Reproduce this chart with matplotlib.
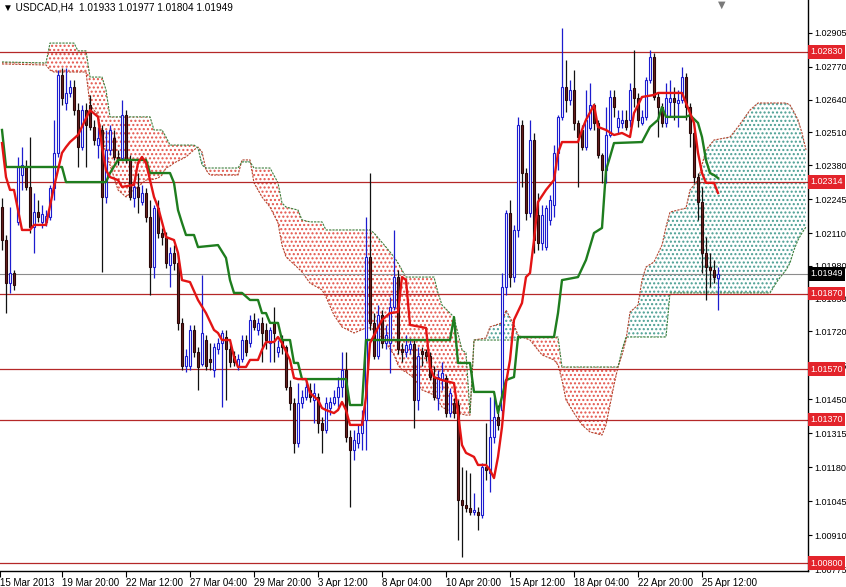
import matplotlib
matplotlib.use('Agg')
import matplotlib.pyplot as plt
import numpy as np
from matplotlib.transforms import blended_transform_factory

plt.rcParams['font.family'] = ['Liberation Sans', 'DejaVu Sans']
plt.rcParams['hatch.linewidth'] = 1.0

# ---------------- data (USDCAD H4 candles) ----------------
opens = [
1.02214, 1.02083, 1.01912, 1.01952, 1.02155, 1.02341, 1.02373, 1.02294, 1.02135, 1.02194,
1.02155, 1.02155, 1.02174, 1.02290, 1.02429, 1.02738, 1.02627, 1.02667, 1.02691, 1.02599,
1.02452, 1.02599, 1.02619, 1.02532, 1.02460, 1.02520, 1.02254, 1.02441, 1.02488, 1.02413,
1.02409, 1.02579, 1.02401, 1.02250, 1.02294, 1.02234, 1.02270, 1.02174, 1.01976, 1.02210,
1.02111, 1.02095, 1.01984, 1.02032, 1.01992, 1.01754, 1.01583, 1.01583, 1.01726, 1.01639,
1.01591, 1.01686, 1.01611, 1.01567, 1.01651, 1.01674, 1.01698, 1.01651, 1.01623, 1.01583,
1.01611, 1.01686, 1.01674, 1.01766, 1.01726, 1.01754, 1.01726, 1.01674, 1.01754, 1.01639,
1.01686, 1.01658, 1.01500, 1.01437, 1.01278, 1.01437, 1.01460, 1.01488, 1.01448, 1.01460,
1.01357, 1.01329, 1.01416, 1.01437, 1.01460, 1.01500, 1.01567, 1.01301, 1.01250, 1.01278,
1.01317, 1.01369, 1.02016, 1.01754, 1.01623, 1.01785, 1.01674, 1.01674, 1.01817, 1.01936,
1.01651, 1.01639, 1.01651, 1.01670, 1.01448, 1.01643, 1.01639, 1.01623, 1.01539, 1.01456,
1.01527, 1.01535, 1.01397, 1.01437, 1.01428, 1.01051, 1.01031, 1.01019, 1.01003, 1.01003,
1.00991, 1.01182, 1.01158, 1.01301, 1.01381, 1.01409, 1.01896, 1.02190, 1.01936, 1.02123,
1.02540, 1.02349, 1.02190, 1.02480, 1.02182, 1.02071, 1.02055, 1.02162, 1.02222, 1.02429,
1.02571, 1.02691, 1.02639, 1.02679, 1.02548, 1.02520, 1.02452, 1.02528, 1.02619, 1.02548,
1.02421, 1.02361, 1.02500, 1.02651, 1.02532, 1.02548, 1.02560, 1.02560, 1.02687, 1.02647,
1.02548, 1.02571, 1.02718, 1.02810, 1.02651, 1.02611, 1.02548, 1.02631, 1.02647, 1.02627,
1.02639, 1.02730, 1.02611, 1.02508, 1.02333, 1.02234, 1.02032, 1.01976, 1.01964, 1.01933,
]
highs = [
1.02250, 1.02103, 1.02214, 1.01964, 1.02413, 1.02452, 1.02401, 1.02492, 1.02270, 1.02242,
1.02222, 1.02202, 1.02302, 1.02560, 1.02758, 1.02766, 1.02766, 1.02718, 1.02718, 1.02627,
1.02619, 1.02627, 1.02659, 1.02560, 1.02532, 1.02540, 1.02520, 1.02540, 1.02520, 1.02441,
1.02639, 1.02599, 1.02421, 1.02321, 1.02349, 1.02302, 1.02290, 1.02242, 1.02222, 1.02242,
1.02131, 1.02115, 1.02055, 1.02063, 1.02024, 1.01773, 1.01651, 1.01746, 1.01746, 1.01658,
1.01944, 1.01706, 1.01674, 1.01674, 1.01694, 1.01726, 1.01726, 1.01674, 1.01643, 1.01631,
1.01706, 1.01706, 1.01785, 1.01793, 1.01773, 1.01777, 1.01754, 1.01738, 1.01817, 1.01686,
1.01706, 1.01666, 1.01527, 1.01456, 1.01515, 1.01488, 1.01527, 1.01515, 1.01515, 1.01476,
1.01381, 1.01460, 1.01460, 1.01488, 1.01539, 1.01639, 1.01639, 1.01329, 1.01329, 1.01349,
1.01409, 1.02174, 1.02349, 1.01793, 1.01825, 1.01805, 1.01746, 1.01857, 1.02123, 1.01964,
1.01674, 1.01706, 1.01694, 1.01686, 1.01658, 1.01658, 1.01651, 1.01639, 1.01583, 1.01567,
1.01599, 1.01547, 1.01496, 1.01456, 1.01448, 1.01182, 1.01170, 1.01158, 1.01079, 1.01023,
1.01198, 1.01357, 1.01460, 1.01460, 1.01428, 1.01952, 1.02202, 1.02242, 1.02143, 1.02571,
1.02560, 1.02369, 1.02560, 1.02508, 1.02270, 1.02222, 1.02222, 1.02262, 1.02460, 1.02579,
1.02925, 1.02798, 1.02718, 1.02758, 1.02560, 1.02540, 1.02679, 1.02706, 1.02627, 1.02560,
1.02429, 1.02611, 1.02679, 1.02679, 1.02599, 1.02599, 1.02599, 1.02706, 1.02837, 1.02667,
1.02599, 1.02730, 1.02837, 1.02826, 1.02667, 1.02627, 1.02706, 1.02718, 1.02691, 1.02679,
1.02770, 1.02746, 1.02627, 1.02520, 1.02349, 1.02294, 1.02095, 1.02032, 1.02004, 1.01977,
]
lows = [
1.02044, 1.01793, 1.01873, 1.01885, 1.02143, 1.02282, 1.02282, 1.02111, 1.02032, 1.02155,
1.02131, 1.02139, 1.02162, 1.02242, 1.02413, 1.02619, 1.02599, 1.02651, 1.02579, 1.02373,
1.02441, 1.02373, 1.02520, 1.02460, 1.02409, 1.01956, 1.02230, 1.02421, 1.02401, 1.02381,
1.02401, 1.02389, 1.02242, 1.02214, 1.02190, 1.02222, 1.02155, 1.01865, 1.01932, 1.02091,
1.02063, 1.01972, 1.01896, 1.01964, 1.01726, 1.01567, 1.01559, 1.01567, 1.01619, 1.01488,
1.01583, 1.01567, 1.01567, 1.01539, 1.01631, 1.01420, 1.01448, 1.01579, 1.01583, 1.01567,
1.01599, 1.01623, 1.01658, 1.01726, 1.01706, 1.01599, 1.01651, 1.01599, 1.01599, 1.01619,
1.01631, 1.01488, 1.01409, 1.01238, 1.01262, 1.01416, 1.01448, 1.01440, 1.01357, 1.01317,
1.01238, 1.01317, 1.01389, 1.01428, 1.01420, 1.01460, 1.01282, 1.01023, 1.01210, 1.01258,
1.01250, 1.01250, 1.01726, 1.01611, 1.01611, 1.01654, 1.01651, 1.01555, 1.01805, 1.01631,
1.01599, 1.01619, 1.01631, 1.01337, 1.01409, 1.01583, 1.01603, 1.01527, 1.01448, 1.01409,
1.01488, 1.01381, 1.01381, 1.01377, 1.00892, 1.00825, 1.01003, 1.00991, 1.00991, 1.00932,
1.00979, 1.01129, 1.01083, 1.01278, 1.01329, 1.01389, 1.01865, 1.01896, 1.01916, 1.02095,
1.02294, 1.02162, 1.02174, 1.02032, 1.02044, 1.02044, 1.02044, 1.02143, 1.02174, 1.02361,
1.02560, 1.02591, 1.02619, 1.02520, 1.02294, 1.02441, 1.02441, 1.02520, 1.02520, 1.02409,
1.02309, 1.02309, 1.02492, 1.02571, 1.02508, 1.02528, 1.02520, 1.02532, 1.02611, 1.02532,
1.02540, 1.02560, 1.02706, 1.02639, 1.02492, 1.02532, 1.02532, 1.02571, 1.02560, 1.02532,
1.02627, 1.02560, 1.02452, 1.02309, 1.02162, 1.01952, 1.01845, 1.01896, 1.01912, 1.01804,
]
closes = [
1.02083, 1.01912, 1.01952, 1.01904, 1.02373, 1.02381, 1.02294, 1.02135, 1.02194, 1.02174,
1.02186, 1.02178, 1.02290, 1.02429, 1.02738, 1.02647, 1.02667, 1.02691, 1.02599, 1.02452,
1.02599, 1.02540, 1.02532, 1.02480, 1.02488, 1.02254, 1.02441, 1.02520, 1.02413, 1.02401,
1.02579, 1.02401, 1.02254, 1.02294, 1.02254, 1.02270, 1.02174, 1.01976, 1.02210, 1.02111,
1.02095, 1.01992, 1.02032, 1.01992, 1.01754, 1.01583, 1.01623, 1.01726, 1.01639, 1.01579,
1.01714, 1.01583, 1.01599, 1.01658, 1.01674, 1.01714, 1.01651, 1.01599, 1.01599, 1.01611,
1.01686, 1.01639, 1.01766, 1.01738, 1.01754, 1.01714, 1.01686, 1.01726, 1.01714, 1.01658,
1.01658, 1.01500, 1.01437, 1.01278, 1.01437, 1.01460, 1.01500, 1.01460, 1.01476, 1.01357,
1.01329, 1.01437, 1.01440, 1.01460, 1.01500, 1.01567, 1.01301, 1.01250, 1.01290, 1.01317,
1.01369, 1.02016, 1.01754, 1.01623, 1.01785, 1.01674, 1.01706, 1.01817, 1.01936, 1.01651,
1.01639, 1.01666, 1.01670, 1.01448, 1.01623, 1.01631, 1.01623, 1.01539, 1.01460, 1.01539,
1.01555, 1.01397, 1.01476, 1.01397, 1.01051, 1.01031, 1.01019, 1.01003, 1.01011, 1.00991,
1.01182, 1.01170, 1.01301, 1.01381, 1.01349, 1.01896, 1.02190, 1.01936, 1.02123, 1.02540,
1.02349, 1.02190, 1.02480, 1.02083, 1.02071, 1.02182, 1.02210, 1.02242, 1.02429, 1.02571,
1.02691, 1.02639, 1.02679, 1.02548, 1.02492, 1.02452, 1.02560, 1.02619, 1.02548, 1.02421,
1.02361, 1.02500, 1.02651, 1.02611, 1.02568, 1.02560, 1.02532, 1.02679, 1.02647, 1.02560,
1.02571, 1.02718, 1.02810, 1.02651, 1.02611, 1.02548, 1.02647, 1.02647, 1.02631, 1.02639,
1.02730, 1.02611, 1.02508, 1.02333, 1.02234, 1.02032, 1.01976, 1.01964, 1.01936, 1.01949,
]

# Ichimoku lines (bar index, value)
tenkan_idx = [0, 1, 2, 3, 5, 7, 8, 11, 13, 15, 16, 17, 19, 22, 24, 25, 26, 27, 29, 30, 33, 34, 35, 36,
              38, 39, 41, 43, 44, 45, 47, 49, 51, 53, 54, 55, 57, 58, 59, 61, 62, 64, 65, 66, 68, 69,
              70, 72, 73, 74, 76, 77, 79, 80, 81, 83, 84, 85, 86, 87, 90, 91, 92, 95, 97, 99, 100,
              101, 102, 106, 107, 108, 110, 113, 114, 115, 116, 118, 119, 121, 122, 123, 124, 125,
              126, 127, 128, 130, 131, 132, 133, 134, 136, 138, 139, 140, 144, 145, 146, 148, 149,
              151, 153, 155, 157, 158, 160, 163, 164, 170, 171, 173, 174, 175, 176, 178, 179]
tenkan_val = [1.02468, 1.02333, 1.02282, 1.02282, 1.02123, 1.02123, 1.02143, 1.02143, 1.02294,
              1.02429, 1.02452, 1.02472, 1.02500, 1.02599, 1.02572, 1.02452, 1.02361, 1.02333,
              1.02321, 1.02294, 1.02302, 1.02389, 1.02413, 1.02389, 1.02254, 1.02214, 1.02095,
              1.02083, 1.02032, 1.01924, 1.01916, 1.01845, 1.01793, 1.01726, 1.01714, 1.01686,
              1.01686, 1.01619, 1.01579, 1.01579, 1.01607, 1.01607, 1.01647, 1.01678, 1.01678,
              1.01698, 1.01674, 1.01607, 1.01535, 1.01531, 1.01531, 1.01476, 1.01448, 1.01416,
              1.01408, 1.01396, 1.01408, 1.01440, 1.01408, 1.01349, 1.01349, 1.01460, 1.01674,
              1.01766, 1.01793, 1.01797, 1.01936, 1.01924, 1.01746, 1.01734, 1.01579, 1.01539,
              1.01527, 1.01515, 1.01396, 1.01269, 1.01238, 1.01222, 1.01190, 1.01190, 1.01170,
              1.01138, 1.01222, 1.01341, 1.01515, 1.01607, 1.01766, 1.01833, 1.01936, 1.01952,
              1.02083, 1.02234, 1.02282, 1.02321, 1.02429, 1.02472, 1.02472, 1.02520, 1.02560,
              1.02619, 1.02532, 1.02520, 1.02500, 1.02508, 1.02492, 1.02587, 1.02651, 1.02659,
              1.02667, 1.02667, 1.02627, 1.02548, 1.02429, 1.02349, 1.02310, 1.02310, 1.02270]

kijun_idx = [0, 1, 15, 16, 26, 27, 29, 36, 37, 42, 43, 44, 45, 46, 48, 49, 54, 56, 57, 58, 60, 62,
             64, 65, 66, 67, 69, 70, 72, 73, 74, 75, 86, 87, 90, 91, 112, 113, 114, 117, 118, 123,
             124, 126, 128, 129, 138, 139, 140, 144, 146, 148, 150, 151, 152, 153, 160, 162, 164,
             165, 166, 171, 172, 174, 175, 176, 177, 178, 179]
kijun_val = [1.02520, 1.02373, 1.02373, 1.02313, 1.02313, 1.02349, 1.02401, 1.02401, 1.02349,
             1.02349, 1.02310, 1.02202, 1.02151, 1.02103, 1.02103, 1.02055, 1.02063, 1.02012,
             1.01924, 1.01873, 1.01873, 1.01845, 1.01845, 1.01793, 1.01793, 1.01754, 1.01754,
             1.01686, 1.01686, 1.01595, 1.01595, 1.01531, 1.01531, 1.01428, 1.01428, 1.01686,
             1.01686, 1.01777, 1.01595, 1.01595, 1.01480, 1.01480, 1.01396, 1.01527, 1.01539,
             1.01698, 1.01698, 1.01793, 1.01924, 1.01936, 1.02004, 1.02111, 1.02131, 1.02361,
             1.02413, 1.02468, 1.02472, 1.02532, 1.02560, 1.02611, 1.02572, 1.02572, 1.02579,
             1.02548, 1.02492, 1.02401, 1.02349, 1.02341, 1.02329]

cloud_idx = [0, 11, 12, 13, 18, 19, 21, 22, 24, 25, 26, 27, 29, 31, 33, 36, 37, 38, 39, 40, 41, 42,
             43, 46, 48, 49, 50, 51, 52, 59, 60, 62, 63, 65, 67, 69, 70, 71, 74, 75, 77, 80, 81, 83,
             85, 88, 91, 92, 93, 96, 98, 99, 100, 101, 103, 105, 108, 109, 110, 113, 115, 116, 117,
             118, 121, 122, 125, 126, 128, 129, 130, 132, 135, 138, 139, 140, 141, 143, 145, 147,
             150, 151, 152, 153, 154, 155, 156, 157, 159, 160, 161, 163, 165, 166, 167, 171, 172,
             174, 176, 178, 182, 184, 187, 189, 192, 194, 196, 197, 198, 199, 200, 201]
span_b = [1.02790, 1.02786, 1.02865, 1.02865, 1.02865, 1.02834, 1.02834, 1.02730, 1.02730, 1.02730,
          1.02679, 1.02572, 1.02572, 1.02572, 1.02572, 1.02572, 1.02572, 1.02520, 1.02520, 1.02520,
          1.02492, 1.02460, 1.02460, 1.02460, 1.02460, 1.02448, 1.02381, 1.02369, 1.02369, 1.02369,
          1.02393, 1.02393, 1.02369, 1.02369, 1.02369, 1.02310, 1.02230, 1.02214, 1.02202, 1.02163,
          1.02155, 1.02155, 1.02123, 1.02123, 1.02123, 1.02123, 1.02123, 1.02123, 1.02111, 1.02055,
          1.02016, 1.01992, 1.01964, 1.01936, 1.01936, 1.01936, 1.01936, 1.01873, 1.01825, 1.01777,
          1.01647, 1.01635, 1.01396, 1.01686, 1.01686, 1.01686, 1.01686, 1.01686, 1.01686, 1.01686,
          1.01698, 1.01698, 1.01698, 1.01698, 1.01698, 1.01579, 1.01579, 1.01579, 1.01579, 1.01579,
          1.01579, 1.01579, 1.01579, 1.01579, 1.01579, 1.01647, 1.01698, 1.01698, 1.01698, 1.01698,
          1.01698, 1.01698, 1.01698, 1.01698, 1.01873, 1.01873, 1.01873, 1.01873, 1.01873, 1.01873,
          1.01873, 1.01873, 1.01873, 1.01873, 1.01873, 1.01924, 1.01964, 1.01992, 1.02044, 1.02083,
          1.02111, 1.02135]
span_a = [1.02782, 1.02778, 1.02758, 1.02750, 1.02750, 1.02750, 1.02750, 1.02619, 1.02579, 1.02500,
          1.02421, 1.02381, 1.02282, 1.02254, 1.02282, 1.02321, 1.02321, 1.02325, 1.02329, 1.02341,
          1.02369, 1.02377, 1.02389, 1.02413, 1.02441, 1.02452, 1.02433, 1.02361, 1.02341, 1.02341,
          1.02401, 1.02401, 1.02310, 1.02254, 1.02214, 1.02151, 1.02063, 1.02016, 1.01972, 1.01956,
          1.01912, 1.01885, 1.01857, 1.01785, 1.01738, 1.01714, 1.01734, 1.01734, 1.01726, 1.01674,
          1.01627, 1.01587, 1.01567, 1.01559, 1.01535, 1.01488, 1.01468, 1.01448, 1.01420, 1.01396,
          1.01392, 1.01388, 1.01388, 1.01686, 1.01694, 1.01738, 1.01754, 1.01805, 1.01746, 1.01706,
          1.01698, 1.01686, 1.01627, 1.01607, 1.01587, 1.01527, 1.01448, 1.01396, 1.01349, 1.01321,
          1.01309, 1.01349, 1.01428, 1.01508, 1.01579, 1.01627, 1.01686, 1.01797, 1.01825, 1.01924,
          1.01976, 1.01996, 1.02063, 1.02135, 1.02194, 1.02210, 1.02282, 1.02321, 1.02441, 1.02480,
          1.02492, 1.02532, 1.02599, 1.02627, 1.02627, 1.02627, 1.02627, 1.02619, 1.02591, 1.02560,
          1.02508, 1.02441]

level_prices = [1.02830, 1.02314, 1.01870, 1.01570, 1.01370, 1.00800]
bid_price = 1.01949
price_ticks = [1.02905, 1.02770, 1.02640, 1.02510, 1.02380, 1.02245, 1.02110, 1.01980, 1.01850,
               1.01720, 1.01585, 1.01450, 1.01315, 1.01180, 1.01045, 1.00910, 1.00775]
time_tick_idx = [-0.5, 15, 31, 47, 63, 79, 95, 111, 127, 143, 159, 175]
time_labels = ['15 Mar 2013', '19 Mar 20:00', '22 Mar 12:00', '27 Mar 04:00', '29 Mar 20:00',
               '3 Apr 12:00', '8 Apr 04:00', '10 Apr 20:00', '15 Apr 12:00', '18 Apr 04:00',
               '22 Apr 20:00', '25 Apr 12:00']
title = '\u25bc USDCAD,H4  1.01933 1.01977 1.01804 1.01949'

# ---------------- drawing ----------------
fig = plt.figure(figsize=(8.46, 5.87), dpi=100)
ax = fig.add_axes([0.0, 16 / 587, 808 / 846, 571 / 587])
ax.set_xlim(-0.5, 201.5)
ax.set_ylim(1.00769, 1.03036)

o = np.array(opens); h = np.array(highs); l = np.array(lows); c = np.array(closes)
x = np.arange(len(o))
up = c >= o

ci = np.array(cloud_idx, dtype=float)
sa = np.array(span_a); sb = np.array(span_b)
red_dot = '#e4554c'
teal_dot = '#4a9e92'
ax.fill_between(ci, sa, sb, where=sb >= sa, interpolate=True, facecolor='none',
                edgecolor=red_dot, hatch='....', linewidth=0, zorder=1)
ax.fill_between(ci, sa, sb, where=sa > sb, interpolate=True, facecolor='none',
                edgecolor=teal_dot, hatch='....', linewidth=0, zorder=1)
ax.plot(ci, sa, color='#b5452f', lw=0.8, ls=(0, (2, 1)), zorder=1.5)
ax.plot(ci, sb, color='#3b7f3b', lw=0.8, ls=(0, (2, 1)), zorder=1.5)

for lv in level_prices:
    ax.axhline(lv, color='#b52828', lw=0.9, zorder=1.8)
ax.axhline(bid_price, color='#8c8c8c', lw=0.8, zorder=1.8)

blue = '#1c1ccf'
ax.vlines(x[up], l[up], h[up], color=blue, lw=0.9, zorder=3)
ax.vlines(x[~up], l[~up], h[~up], color='#111111', lw=0.9, zorder=3)
ax.bar(x[up], c[up] - o[up], bottom=o[up], width=0.72, facecolor='white',
       edgecolor=blue, linewidth=0.8, zorder=3.2)
ax.bar(x[~up], o[~up] - c[~up], bottom=c[~up], width=0.72, facecolor='#6a2020',
       edgecolor='#2a0808', linewidth=0.8, zorder=3.2)

ax.plot(kijun_idx, kijun_val, color='#1e7d1e', lw=1.7, zorder=4)
ax.plot(tenkan_idx, tenkan_val, color='#e31414', lw=1.7, zorder=4.2)

# axes styling
for s in ['top', 'left']:
    ax.spines[s].set_visible(False)
ax.spines['right'].set_color('black')
ax.spines['bottom'].set_color('black')
ax.spines['right'].set_linewidth(1.0)
ax.spines['bottom'].set_linewidth(1.0)
ax.yaxis.tick_right()
ax.set_yticks(price_ticks)
ax.set_yticklabels([f'{p:.5f}' for p in price_ticks])
ax.tick_params(axis='y', labelsize=6.5, length=3, pad=1.5, width=0.8)
ax.set_xticks(time_tick_idx)
ax.set_xticklabels(time_labels, ha='left')
ax.tick_params(axis='x', labelsize=7.0, length=4, pad=1.0, width=0.8)

ytr = blended_transform_factory(ax.transAxes, ax.transData)
for lv in level_prices:
    ax.text(1.003, lv, f'{lv:.5f}', transform=ytr, ha='left', va='center', color='white',
            fontsize=6.5, zorder=10, clip_on=False,
            bbox=dict(boxstyle='square,pad=0.25', facecolor='#e3242b', edgecolor='none'))
ax.text(1.003, bid_price, f'{bid_price:.5f}', transform=ytr, ha='left', va='center',
        color='white', fontsize=6.5, zorder=10, clip_on=False,
        bbox=dict(boxstyle='square,pad=0.25', facecolor='#000000', edgecolor='none'))

ax.text(0.004, 0.995, title, transform=ax.transAxes, ha='left', va='top', fontsize=7.2,
        color='black', zorder=10)
xtr = blended_transform_factory(ax.transData, ax.transAxes)
ax.text(len(o), 1.0, '\u25bc', transform=xtr, ha='center', va='top', fontsize=7,
        color='#7a7a7a', zorder=10, family=['DejaVu Sans'])

fig.savefig('out.png', dpi=100)
